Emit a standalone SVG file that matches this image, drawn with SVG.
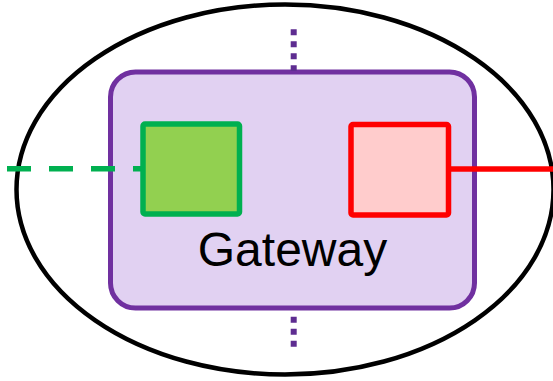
<svg xmlns="http://www.w3.org/2000/svg" width="553" height="381" viewBox="0 0 553 381">
<style>
.port-in{fill:#92D050;stroke:#00B050;stroke-width:5.5}
.port-out{fill:#FFCCCC;stroke:#FF0000;stroke-width:5.5}
.dot{stroke:#5E2D91;stroke-width:6;stroke-dasharray:6 6;fill:none}
text{font-family:"Liberation Sans",Arial,sans-serif}
</style>
<rect width="553" height="381" fill="#FFFFFF"/>
<g id="boundary">
<ellipse cx="285" cy="189.5" rx="268.5" ry="185" fill="none" stroke="#000000" stroke-width="4.5"/>
</g>
<g id="gateway">
<rect x="110.5" y="72" width="364" height="236" rx="25" ry="25" fill="#E1D1F2" stroke="#7030A0" stroke-width="5"/>
<text x="292.5" y="266" font-size="48" text-anchor="middle" fill="#000000">Gateway</text>
</g>
<g id="connectors">
<line x1="7" y1="168.7" x2="141" y2="168.7" stroke="#00B050" stroke-width="5.5" stroke-dasharray="24 18"/>
<line x1="450" y1="169" x2="553" y2="169" stroke="#FF0000" stroke-width="5.5"/>
<line class="dot" x1="293.7" y1="29.3" x2="293.7" y2="71"/>
<line class="dot" x1="293.7" y1="316.7" x2="293.7" y2="348"/>
</g>
<g id="port-left">
<rect class="port-in" x="143" y="124" width="96.5" height="90" rx="2"/>
</g>
<g id="port-right">
<rect class="port-out" x="351" y="124.5" width="97.5" height="90.5" rx="2"/>
</g>
</svg>
